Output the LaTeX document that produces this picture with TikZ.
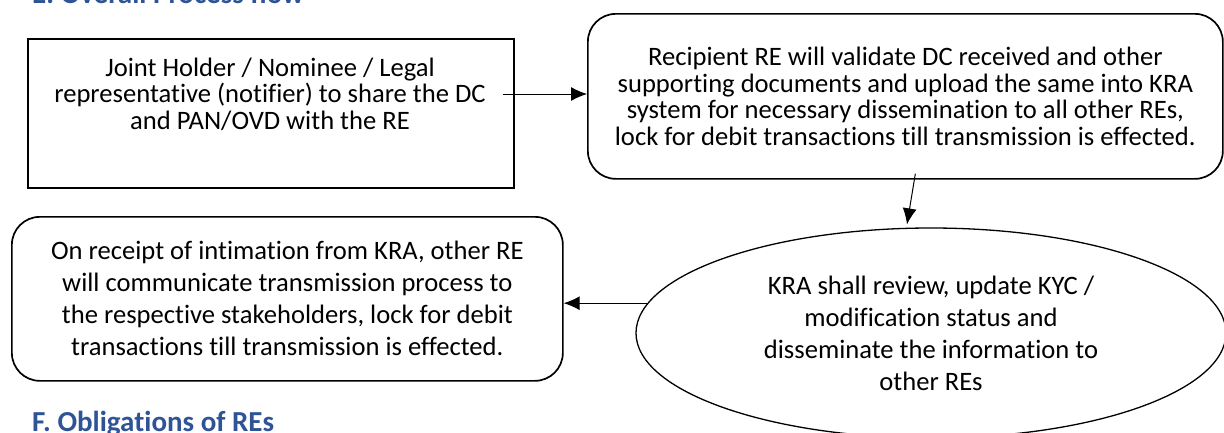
\documentclass[tikz,border=0pt]{standalone}
\usepackage{fontspec}
\setmainfont{Carlito}[Ligatures=NoCommon]
\usetikzlibrary{shapes.geometric,arrows.meta}
\definecolor{headblue}{RGB}{47,84,150}

\begin{document}
\begin{tikzpicture}[
		x=1pt,y=-1pt,
		box/.style={draw,line width=1.7pt,anchor=north west,align=center,inner sep=0pt},
		rbox/.style={box,rounded corners=28pt},
		tight/.style={font=\fontsize{26.6}{26.5}\selectfont},
		loose/.style={font=\fontsize{26.6}{32}\selectfont},
		head/.style={anchor=base west,inner sep=0pt,text=headblue,font=\fontsize{29}{34}\selectfont\bfseries},
		arr/.style={line width=1pt,-{Latex[length=16pt,width=14pt]}}
		]
		\useasboundingbox (0,0) rectangle (1224,432);
		\node[head] (E) at (32,3) {E. Overall Process flow};
		\node[box,minimum width=486pt,minimum height=149pt] (N1) at (27,38) {};
		\node[tight,align=center,inner xsep=17pt,inner ysep=0pt] (N1t) at (270,94) {Joint Holder / Nominee / Legal\\representative (notifier) to share the DC\\and PAN/OVD with the RE};
		\node[rbox,tight,minimum width=635pt,minimum height=165pt] (N2) at (587,13) {Recipient RE will validate DC received and other\\supporting documents and upload the same into KRA\\system for necessary dissemination to all other REs,\\lock for debit transactions till transmission is effected.};
		\node[draw,ellipse,line width=1.3pt,loose,align=center,inner sep=0pt,minimum width=590pt,minimum height=210pt] (N4) at (931,333) {KRA shall review, update KYC /\\modification status and\\disseminate the information to\\other REs};
		\node[rbox,loose,minimum width=551pt,minimum height=164pt] (N3) at (11,216) {On receipt of intimation from KRA, other RE\\will communicate transmission process to\\the respective stakeholders, lock for debit\\transactions till transmission is effected.};
		\node[head] (F) at (32,431) {F. Obligations of REs};
		\draw[arr] (N1t.east) to (N1t.east -| N2.west);
		\draw[arr] ([shift={(10,-6)}]N2.south) to ([shift={(-24,-3)}]N4.north);
		\draw[arr] (N4.174) to (N4.174 -| N3.east);
	\end{tikzpicture}
\end{document}
